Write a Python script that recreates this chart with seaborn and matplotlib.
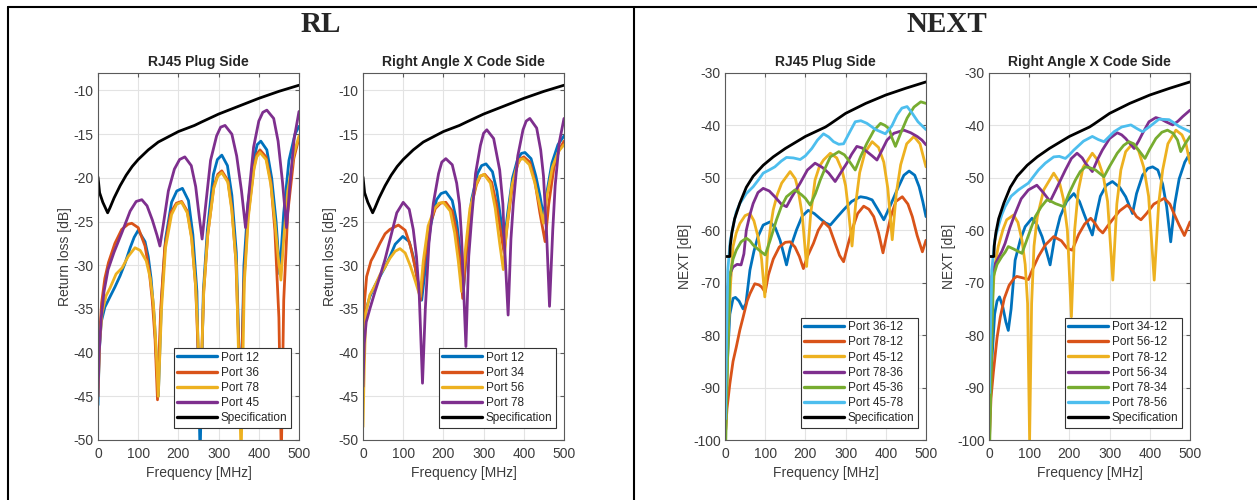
import matplotlib.pyplot as plt
import seaborn as sns
import pandas as pd
from matplotlib.lines import Line2D

# ---- RL data (freq MHz, dB) ----
rl_spec = [(0, -19.9), (4, -21.7), (12, -22.8), (24, -24.0), (30, -23.4), (40, -22.3), (55, -20.9),
           (70, -19.7), (85, -18.7), (100, -17.9), (125, -16.8), (150, -15.9), (200, -14.7),
           (240, -14.0), (258, -13.6), (300, -12.7), (350, -11.8), (400, -10.9), (450, -10.1), (500, -9.4)]

# RJ45 plug side
rl_plug_12 = [(0, -46), (3, -40), (8, -36.5), (17, -34.8), (30, -33.6), (42, -32.5), (55, -31.2), (67, -29.8),
              (80, -28), (90, -26.8), (100, -26.0), (117, -27.3), (125, -29), (132, -31.5), (140, -36), (150, -45),
              (158, -34), (168, -27), (183, -22.8), (196, -21.5), (210, -21.2), (225, -22.6), (236, -26.5),
              (246, -33), (254, -52), (262, -33), (272, -26), (287, -19.6), (297, -17.9), (308, -17.4), (322, -18.6),
              (333, -22), (344, -28.5), (355, -47), (363, -30), (373, -23), (388, -17.8), (396, -16.2), (405, -15.8),
              (420, -16.8), (432, -20), (443, -25), (452, -31), (462, -24), (475, -18), (490, -15), (500, -14.1)]
rl_plug_36 = [(0, -44), (4, -38), (9, -34.3), (17, -31.5), (26, -29.7), (42, -27.5), (59, -25.9), (75, -25.3),
              (84, -25.2), (100, -25.7), (117, -27.8), (127, -30.5), (135, -34), (142, -38.5), (148, -45.4),
              (156, -35), (166, -28), (181, -24), (195, -22.9), (208, -22.7), (222, -23.8), (233, -26.8),
              (243, -32.5), (254, -46), (263, -33), (273, -26.5), (288, -21), (298, -19.6), (308, -19.2),
              (323, -20.3), (333, -23.5), (343, -29.5), (355, -46), (363, -32), (373, -24.5), (388, -18.8),
              (395, -17.3), (403, -16.8), (418, -17.6), (430, -20.5), (440, -26), (450, -36), (456, -52), (462, -34),
              (472, -24), (487, -17.8), (500, -15.4)]
rl_plug_78 = [(0, -45), (4, -39), (10, -35.5), (20, -33.5), (30, -32.6), (45, -31), (60, -30.3), (75, -29),
              (92, -28.0), (105, -28.3), (120, -29.5), (130, -31.5), (138, -34.5), (144, -39), (150, -45),
              (158, -35), (168, -28), (183, -24.2), (196, -23.0), (208, -22.8), (222, -24), (233, -27), (243, -32.5),
              (255, -45), (263, -33), (273, -26.5), (288, -21.2), (298, -19.8), (308, -19.4), (323, -20.5),
              (333, -23.8), (344, -30), (356, -52), (364, -32), (374, -24.5), (388, -19), (395, -17.6), (403, -17.1),
              (418, -17.9), (430, -20.8), (440, -25), (448, -29), (455, -31.7), (462, -27), (472, -21.5),
              (487, -17.3), (500, -15.2)]
rl_plug_45 = [(0, -45), (3, -40), (8, -36), (15, -33), (25, -30.5), (40, -28.5), (60, -26.2), (80, -23.8),
              (95, -22.7), (109, -22.5), (122, -23.2), (135, -24.8), (147, -26.6), (154, -27.8), (162, -25.5),
              (175, -21.5), (190, -19), (203, -17.9), (216, -17.6), (232, -18.6), (243, -21), (252, -24.5),
              (259, -27.0), (267, -23.5), (280, -18), (295, -15.2), (305, -14.2), (316, -14.0), (333, -15),
              (345, -17.5), (357, -21.5), (367, -25.7), (375, -22), (387, -16.5), (400, -13.5), (410, -12.5),
              (420, -12.25), (437, -13.2), (448, -15.8), (459, -20.5), (469, -25.7), (477, -21), (488, -15.5),
              (500, -12.4)]

# Right angle X code side
rl_x_12 = [(0, -38), (5, -35.5), (17, -33.6), (30, -32.3), (42, -31.3), (55, -30.2), (67, -29.0), (80, -27.6),
           (99, -26.7), (115, -27.3), (125, -29), (135, -31.5), (146, -34.0), (156, -30), (168, -25.5), (183, -22.5),
           (194, -21.8), (206, -21.6), (222, -22.6), (233, -25), (242, -28.5), (250, -32.8), (258, -28), (270, -22.5),
           (285, -19.5), (295, -18.6), (306, -18.4), (322, -19.3), (333, -21.5), (342, -24.5), (351, -27.5),
           (360, -24), (372, -20), (385, -17.8), (394, -17.2), (403, -17.1), (418, -17.8), (430, -19.8), (440, -22),
           (449, -24.4), (458, -21.5), (470, -18.3), (485, -16.2), (500, -15.2)]
rl_x_34 = [(0, -38), (4, -34), (9, -31.3), (20, -29.5), (26, -29.0), (42, -27.5), (55, -26.4), (67, -25.9),
           (88, -25.4), (105, -26), (118, -27.8), (130, -30.3), (143, -34.0), (153, -29.5), (165, -25.5), (180, -23.5),
           (193, -22.9), (206, -22.8), (222, -23.8), (233, -26.3), (241, -29.5), (248, -33.8), (256, -29),
           (268, -23.5), (282, -20.8), (292, -19.8), (303, -19.6), (320, -20.5), (332, -23), (342, -26), (351, -28.6),
           (360, -25), (372, -20.8), (385, -18.4), (392, -17.8), (400, -17.6), (415, -18.2), (428, -20.5), (440, -24),
           (453, -27.3), (462, -23), (475, -18.8), (488, -16.8), (500, -15.8)]
rl_x_56 = [(0, -48.5), (3, -42), (7, -35.5), (17, -33.4), (30, -32.3), (42, -31.1), (55, -30.2), (67, -29.2),
           (80, -28.4), (92, -28.1), (105, -28.6), (118, -30.1), (130, -31.8), (142, -33.6), (150, -29.5),
           (162, -25.5), (178, -23.5), (189, -22.9), (200, -22.8), (217, -23.8), (228, -26.3), (237, -29.5),
           (245, -33.0), (254, -28.5), (266, -23.5), (281, -20.8), (291, -19.8), (301, -19.6), (317, -20.6),
           (329, -23.5), (340, -27.5), (349, -30.5), (357, -26), (370, -21), (383, -18.6), (391, -17.9), (399, -17.8),
           (414, -18.5), (427, -20.5), (439, -23), (449, -25.2), (458, -22), (471, -18.8), (486, -17), (500, -16.2)]
rl_x_78 = [(0, -43.9), (3, -39), (8, -36.5), (17, -35.0), (30, -33), (42, -31.3), (55, -29.3), (67, -27.1),
           (84, -24.0), (100, -22.8), (115, -23.6), (125, -25.9), (133, -29), (140, -33.5), (148, -43.5), (155, -35),
           (164, -27.5), (175, -22.9), (188, -19.5), (196, -18.2), (206, -17.8), (222, -18.5), (233, -20.6),
           (240, -23), (245, -26.7), (256, -39.3), (263, -29), (270, -24.8), (280, -19.5), (292, -16.3), (300, -14.9),
           (308, -14.5), (325, -15.5), (340, -19.1), (348, -23), (351, -26.7), (361, -35.7), (368, -27), (374, -22.9),
           (385, -17.5), (398, -14.5), (406, -13.5), (415, -13.2), (432, -14.3), (442, -16.8), (449, -19.8),
           (457, -26.7), (464, -34.7), (472, -26), (478, -20.9), (488, -16), (500, -13.2)]

# ---- NEXT data ----
next_spec = [(0, -65), (12, -65), (13, -63), (17, -60.5), (24, -57.8), (37, -54.8), (53, -51.8), (70, -49.7),
             (95, -47.6), (120, -46.0), (150, -44.4), (200, -42.1), (250, -40.3), (260, -39.8), (300, -37.7),
             (350, -35.8), (400, -34.2), (450, -32.9), (500, -31.7)]

# RJ45 plug side
nx_plug_3612 = [(2, -95), (6, -85), (12, -76), (20, -73), (26, -72.8), (35, -73.5), (45, -75.0), (52, -74),
                (62, -67.6), (72, -64), (82, -61.2), (95, -59), (112, -58.4), (125, -59.5), (137, -61.9),
                (146, -64.5), (153, -66.6), (162, -63.5), (178, -59.9), (192, -57.3), (207, -56.2), (222, -56.8),
                (237, -57.8), (250, -58.6), (262, -59.0), (280, -57.4), (295, -56.1), (315, -54.5), (337, -53.6),
                (352, -53.8), (366, -54.2), (380, -56), (395, -58.0), (410, -55.5), (428, -52.3), (445, -49.5),
                (458, -48.7), (472, -49.5), (483, -51.7), (492, -54.5), (500, -57.4)]
nx_plug_7812 = [(0, -100), (5, -94), (12, -89.3), (20, -85), (28, -82.3), (37, -79), (45, -76.6), (55, -73.5),
                (62, -72.1), (74, -70.2), (84, -70.4), (91, -70.8), (100, -71.8), (108, -68.5), (120, -65.5),
                (135, -63.2), (150, -62.3), (162, -62.2), (174, -63.2), (185, -65), (195, -67.3), (205, -65),
                (220, -62.5), (232, -60), (245, -58.4), (260, -59.5), (274, -62.5), (285, -64.8), (295, -66.0),
                (305, -63), (316, -59.9), (330, -56.8), (345, -55.4), (358, -56), (370, -57.4), (382, -60.5),
                (393, -64.3), (402, -61), (412, -57.5), (425, -54.5), (441, -53.6), (455, -55), (466, -57.4),
                (478, -61), (491, -64.1), (500, -61.9)]
nx_plug_4512 = [(2, -98), (8, -80), (14, -70), (20, -63.1), (28, -60.5), (37, -58.7), (50, -57.2), (62, -56.8),
                (72, -58.2), (82, -61.2), (91, -65.5), (99, -72.7), (106, -64), (113, -59.5), (120, -56.1),
                (130, -53.2), (141, -51.0), (162, -48.8), (175, -50.2), (182, -52.3), (192, -57), (203, -66.9),
                (213, -57), (224, -50.4), (235, -47.8), (245, -46.6), (262, -45.3), (278, -46.2), (291, -48.5),
                (300, -51.5), (307, -56.1), (316, -63), (325, -55), (335, -49), (348, -45.2), (366, -43.1),
                (382, -44.2), (395, -47), (405, -52), (416, -61.8), (426, -53), (437, -47.5), (452, -43.5),
                (470, -42.1), (485, -43.5), (500, -47.9)]
nx_plug_7836 = [(2, -95), (7, -70.8), (14, -68), (20, -67), (30, -66.5), (40, -66.6), (47, -64.5), (53, -60),
                (62, -57), (70, -54.9), (82, -52.8), (95, -52.0), (110, -52.5), (124, -53.6), (140, -55), (153, -55.5),
                (165, -53.8), (187, -51.0), (205, -48.5), (224, -47.2), (242, -48), (258, -49.1), (274, -50.7),
                (288, -49), (303, -47.2), (315, -45.5), (328, -44.0), (341, -44.3), (353, -45.0), (366, -45.8),
                (378, -46.6), (390, -44.8), (403, -42.8), (420, -41.5), (445, -40.9), (462, -41.4), (478, -42.1),
                (490, -42.8), (500, -43.7)]
nx_plug_4536 = [(2, -100), (6, -85), (12, -68.8), (20, -65.5), (28, -63.8), (40, -62.2), (53, -61.5), (62, -62),
                (70, -62.8), (85, -63.8), (100, -64.7), (112, -62), (128, -58), (140, -55.5), (153, -53.6),
                (174, -52.3), (190, -53.2), (200, -53.9), (212, -55.2), (225, -53), (237, -50.4), (250, -48),
                (262, -46.0), (283, -45.0), (297, -45.6), (307, -46.6), (316, -47.6), (324, -48.5), (337, -46),
                (353, -43.4), (370, -41), (387, -39.6), (398, -40), (408, -40.6), (416, -42.5), (424, -44.0),
                (437, -41.5), (453, -38.6), (470, -36.5), (487, -35.5), (500, -35.8)]
nx_plug_4578 = [(1, -96), (4, -80), (7, -67.6), (13, -62), (20, -59.3), (28, -56.5), (37, -54.9), (53, -53.0),
                (70, -51.7), (85, -50.2), (95, -49.1), (110, -48.5), (124, -47.9), (140, -46.8), (153, -46.1),
                (170, -46.2), (187, -46.5), (200, -45.8), (216, -44.4), (230, -42.8), (245, -41.6), (258, -42.2),
                (270, -43.1), (283, -43.6), (295, -43.5), (310, -41.3), (324, -39.3), (338, -39.1), (353, -39.6),
                (375, -40.8), (399, -41.6), (415, -40.1), (428, -38), (440, -36.7), (453, -36.4), (466, -37.7),
                (480, -39.3), (500, -40.8)]

# Right angle X code side
nx_x_3412 = [(2, -95), (7, -85), (14, -76), (20, -73.5), (26, -72.7), (34, -74.5), (42, -77.5), (48, -79.1),
             (55, -75), (65, -65.7), (78, -61.8), (90, -59.3), (107, -57.7), (120, -59), (132, -61.2), (142, -63.8),
             (152, -66.6), (162, -62), (177, -57.4), (193, -54.5), (211, -53.0), (225, -54.5), (236, -56.8),
             (246, -58.8), (257, -60.9), (267, -57), (277, -53.5), (292, -51.4), (307, -50.7), (325, -51.8),
             (340, -53.6), (350, -55.5), (357, -56.8), (367, -53), (382, -49.5), (395, -48.2), (407, -47.9),
             (420, -48.5), (432, -51.2), (442, -55.5), (452, -62.2), (462, -55), (473, -50.2), (487, -47),
             (500, -45.3)]
nx_x_5612 = [(1, -100), (5, -92), (11, -87), (20, -80.5), (28, -76.6), (38, -73), (50, -70.5), (62, -69.2),
             (69, -68.8), (80, -69), (90, -69.2), (98, -69.4), (108, -67.5), (123, -65.0), (140, -62.8), (161, -61.2),
             (180, -62), (194, -63.4), (207, -63.8), (223, -60.8), (238, -58.8), (253, -57.7), (263, -58.6),
             (273, -59.8), (283, -60.5), (295, -59.2), (307, -58), (325, -56.3), (344, -55.2), (357, -56.2),
             (367, -57.4), (378, -58.0), (392, -56.8), (410, -55), (436, -53.9), (450, -55), (460, -56.8),
             (473, -59), (486, -61.0), (500, -58.4)]
nx_x_7812 = [(2, -95), (7, -75), (14, -67), (23, -63.1), (35, -59.8), (44, -58.0), (61, -57.1), (72, -58.5),
             (82, -61.9), (90, -66.5), (96, -74), (101, -100), (106, -74), (112, -63), (120, -57.5), (136, -52.3),
             (161, -49.1), (175, -50.8), (185, -54), (195, -60), (205, -76.5), (213, -60), (222, -52.5), (234, -48),
             (257, -45.3), (272, -46.8), (284, -49.5), (295, -54.5), (308, -69.5), (318, -55), (328, -48.5),
             (340, -45), (357, -43.5), (372, -44.8), (385, -48), (397, -53.5), (411, -69.5), (422, -55),
             (432, -48.5), (445, -43.5), (465, -40.9), (480, -41.8), (490, -43.5), (500, -47.2)]
nx_x_5634 = [(1, -95), (4, -80), (7, -68.8), (15, -66.5), (23, -65.3), (32, -64), (40, -62.5), (52, -59.5),
             (65, -56.8), (80, -54), (98, -52.3), (119, -51.4), (135, -52.8), (152, -54.5), (168, -52), (190, -48.5),
             (205, -46.3), (219, -45.3), (232, -46.2), (240, -47.2), (257, -48.8), (270, -46.5), (282, -44.7),
             (300, -42.5), (319, -41.4), (330, -41.8), (340, -42.5), (361, -44.4), (372, -43), (382, -41.5),
             (398, -39.3), (415, -38.5), (428, -38.8), (440, -39.3), (457, -39.9), (470, -39.2), (482, -38.3),
             (500, -37.1)]
nx_x_7834 = [(2, -100), (6, -85), (11, -68.8), (20, -66.5), (32, -65), (40, -64.2), (48, -63.1), (62, -63.6),
             (82, -64.4), (98, -61), (115, -57.4), (130, -55.5), (144, -54.2), (155, -54.5), (165, -54.9),
             (186, -55.5), (200, -52.8), (215, -50.4), (227, -48.8), (240, -47.9), (252, -48.1), (265, -48.5),
             (286, -49.8), (300, -47.8), (319, -45.3), (335, -43.8), (348, -43.1), (360, -43.5), (369, -44.4),
             (388, -46.3), (400, -44.5), (415, -42.5), (430, -41.3), (444, -40.9), (458, -41.5), (469, -42.8),
             (477, -45.0), (488, -43.5), (500, -42.1)]
nx_x_7856 = [(1, -91), (4, -78), (7, -67.6), (14, -62), (23, -59.3), (32, -57), (40, -55.5), (55, -53.5),
             (73, -52.3), (98, -51.0), (110, -49.8), (123, -48.5), (140, -47.2), (161, -46.0), (175, -45.9),
             (190, -46.3), (200, -45.6), (211, -44.7), (235, -43), (257, -42.1), (272, -42.7), (286, -43.1),
             (298, -42.2), (311, -41.2), (330, -40.3), (353, -39.9), (368, -40.6), (382, -41.2), (400, -40.2),
             (423, -38.8), (448, -38.9), (460, -39.5), (473, -40.2), (500, -41.2)]

MATLAB = ['#0072BD', '#D95319', '#EDB120', '#7E2F8E', '#77AC30', '#4DBEEE']

panels = [
    ('RJ45 Plug Side', 'Return loss [dB]', 'rl',
     [('Port 12', rl_plug_12), ('Port 36', rl_plug_36), ('Port 78', rl_plug_78), ('Port 45', rl_plug_45),
      ('Specification', rl_spec)]),
    ('Right Angle X Code Side', 'Return loss [dB]', 'rl',
     [('Port 12', rl_x_12), ('Port 34', rl_x_34), ('Port 56', rl_x_56), ('Port 78', rl_x_78),
      ('Specification', rl_spec)]),
    ('RJ45 Plug Side', 'NEXT [dB]', 'next',
     [('Port 36-12', nx_plug_3612), ('Port 78-12', nx_plug_7812), ('Port 45-12', nx_plug_4512),
      ('Port 78-36', nx_plug_7836), ('Port 45-36', nx_plug_4536), ('Port 45-78', nx_plug_4578),
      ('Specification', next_spec)]),
    ('Right Angle X Code Side', 'NEXT [dB]', 'next',
     [('Port 34-12', nx_x_3412), ('Port 56-12', nx_x_5612), ('Port 78-12', nx_x_7812),
      ('Port 56-34', nx_x_5634), ('Port 78-34', nx_x_7834), ('Port 78-56', nx_x_7856),
      ('Specification', next_spec)]),
]
lefts = [98, 363, 725, 989]

sns.set_style('white')
plt.rcParams['font.family'] = ['Liberation Sans', 'DejaVu Sans']
plt.rcParams['axes.unicode_minus'] = False

fig = plt.figure(figsize=(12.57, 5.0), dpi=100)

for (title, ylabel, kind, series), left in zip(panels, lefts):
    ax = fig.add_axes([left / 1257, 1 - 440 / 500, 201 / 1257, 367 / 500])
    rows = [(name, f, v) for name, pts in series for f, v in pts]
    df = pd.DataFrame(rows, columns=['series', 'freq', 'db'])
    names = [n for n, _ in series]
    colors = MATLAB[:len(names) - 1] + ['#000000']
    sns.lineplot(data=df, x='freq', y='db', hue='series', hue_order=names, palette=colors,
                 estimator=None, linewidth=2.0, legend=False, ax=ax)
    ax.set_xlim(0, 500)
    ax.set_xticks(range(0, 501, 100))
    if kind == 'rl':
        ax.set_ylim(-50, -8)
        ax.set_yticks(range(-50, -9, 5))
    else:
        ax.set_ylim(-100, -30)
        ax.set_yticks(range(-100, -29, 10))
    ax.grid(True, color='#e3e3e3', linewidth=0.8)
    ax.set_axisbelow(True)
    for sp in ax.spines.values():
        sp.set_color('#5a5a5a')
        sp.set_linewidth(0.8)
    ax.tick_params(direction='in', top=True, right=True, length=3, width=0.8,
                   color='#5a5a5a', labelcolor='#3c3c3c', labelsize=10, pad=3)
    ax.tick_params(axis='x', pad=5)
    ax.set_xlabel('Frequency [MHz]', fontsize=10, color='#3c3c3c', labelpad=4)
    ax.set_ylabel(ylabel, fontsize=10, color='#3c3c3c', labelpad=1)
    ax.set_title(title, fontsize=10, fontweight='bold', pad=5)
    handles = [Line2D([], [], color=c, linewidth=2.4) for c in colors]
    leg = ax.legend(handles, names, loc='lower right', bbox_to_anchor=(0.96, 0.033), borderaxespad=0,
                    fontsize=8.5, frameon=True, fancybox=False, framealpha=1, edgecolor='#333333',
                    handlelength=3.4, handletextpad=0.3, labelspacing=0.27, borderpad=0.3)
    leg.get_frame().set_linewidth(0.8)

# section headings and table borders
fig.text(321 / 1257, 1 - 24 / 500, 'RL', ha='center', va='center', fontsize=21, fontweight='bold',
         family=['Liberation Serif', 'DejaVu Serif'])
fig.text(947 / 1257, 1 - 24 / 500, 'NEXT', ha='center', va='center', fontsize=21, fontweight='bold',
         family=['Liberation Serif', 'DejaVu Serif'])
for xs, ys in [((8 / 1257, 8 / 1257), (0, 1 - 7 / 500)),
               ((634 / 1257, 634 / 1257), (0, 1 - 7 / 500)),
               ((8 / 1257, 1), (1 - 7 / 500, 1 - 7 / 500))]:
    fig.add_artist(Line2D(xs, ys, color='black', linewidth=1.5, transform=fig.transFigure))

fig.savefig('out.png', dpi=100)
